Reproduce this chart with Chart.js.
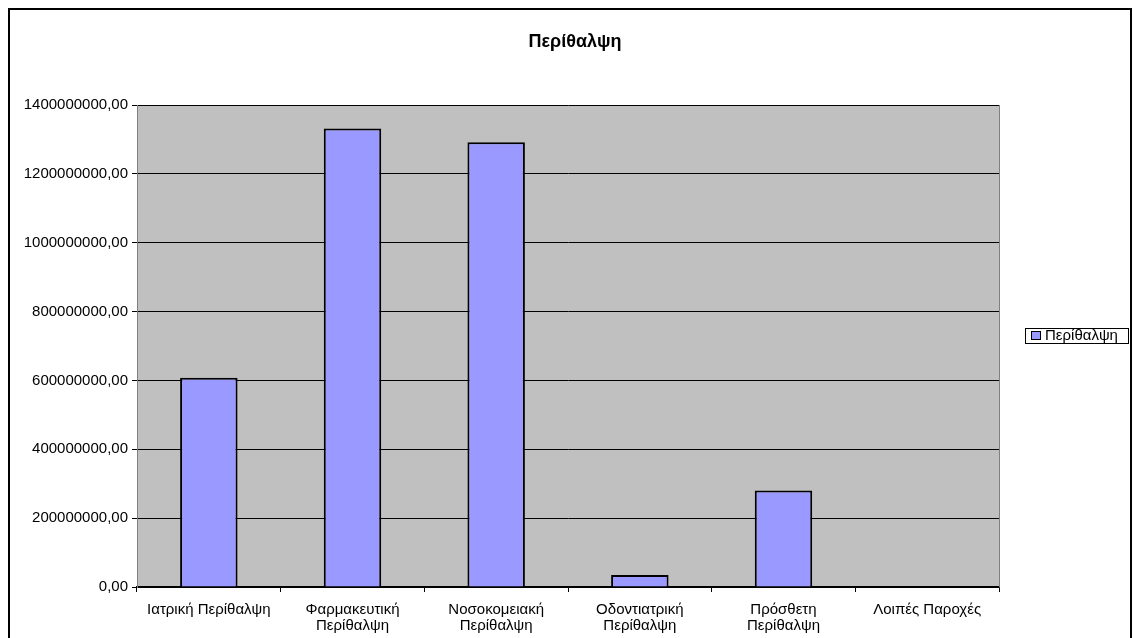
<!DOCTYPE html>
<html>
<head>
<meta charset="utf-8">
<script src="https://cdn.jsdelivr.net/npm/chart.js@4/dist/chart.umd.min.js"></script>
<style>
  html, body { margin: 0; padding: 0; background: #ffffff; }
  #wrap { width: 1133px; height: 638px; position: relative; }
</style>
</head>
<body>
<div id="wrap"><canvas id="chart" width="1133" height="638"></canvas></div>
<script>
// Chart content
const chartTitle = 'Περίθαλψη';
const seriesName = 'Περίθαλψη';
const categories = [
  'Ιατρική Περίθαλψη',
  'Φαρμακευτική Περίθαλψη',
  'Νοσοκομειακή Περίθαλψη',
  'Οδοντιατρική Περίθαλψη',
  'Πρόσθετη Περίθαλψη',
  'Λοιπές Παροχές'
];
// Category labels as they wrap under the axis
const categoryLines = [
  ['Ιατρική Περίθαλψη'],
  ['Φαρμακευτική', 'Περίθαλψη'],
  ['Νοσοκομειακή', 'Περίθαλψη'],
  ['Οδοντιατρική', 'Περίθαλψη'],
  ['Πρόσθετη', 'Περίθαλψη'],
  ['Λοιπές Παροχές']
];
const values = [608000000, 1332000000, 1292000000, 35000000, 280000000, 0];
const yTicks = [0, 200000000, 400000000, 600000000, 800000000, 1000000000, 1200000000, 1400000000];

const FONT = '"Liberation Sans", Arial, Helvetica, sans-serif';
const BAR_FILL = '#9999FF';

// Numbers shown with two decimals and a comma separator, no grouping
function fmt(v) {
  return Number(v).toFixed(2).replace('.', ',');
}

const frame = {
  id: 'frame',
  beforeDraw(chart) {
    const { ctx, chartArea: a } = chart;
    ctx.save();
    ctx.fillStyle = '#ffffff';
    ctx.fillRect(0, 0, chart.width, chart.height);
    ctx.fillStyle = '#C0C0C0';
    ctx.fillRect(a.left, a.top, a.right - a.left, a.bottom - a.top);
    ctx.restore();
  },
  afterDraw(chart) {
    const { ctx, chartArea: a } = chart;
    ctx.save();
    // plot area right edge
    ctx.strokeStyle = '#808080';
    ctx.lineWidth = 1;
    ctx.beginPath();
    ctx.moveTo(a.right + 0.5, a.top);
    ctx.lineTo(a.right + 0.5, a.bottom);
    ctx.stroke();

    // outer chart border
    ctx.strokeStyle = '#000000';
    ctx.lineWidth = 2;
    ctx.beginPath();
    ctx.moveTo(9, chart.height);
    ctx.lineTo(9, 9);
    ctx.lineTo(1131, 9);
    ctx.lineTo(1131, chart.height);
    ctx.stroke();

    // title
    ctx.fillStyle = '#000000';
    ctx.font = 'bold 18px ' + FONT;
    ctx.textAlign = 'center';
    ctx.textBaseline = 'middle';
    ctx.fillText(chartTitle, 575, 42.5);

    // legend
    const ds = chart.data.datasets[0];
    ctx.lineWidth = 1;
    ctx.strokeStyle = '#000000';
    ctx.fillStyle = '#ffffff';
    ctx.fillRect(1025.5, 328.5, 103, 15);
    ctx.strokeRect(1025.5, 328.5, 103, 15);
    ctx.fillStyle = ds.backgroundColor;
    ctx.fillRect(1031.5, 331.5, 9, 8);
    ctx.strokeRect(1031.5, 331.5, 9, 8);
    ctx.fillStyle = '#000000';
    ctx.font = '15px ' + FONT;
    ctx.textAlign = 'left';
    ctx.fillText(ds.label, 1045, 336);
    ctx.restore();
  }
};

new Chart(document.getElementById('chart'), {
  type: 'bar',
  data: {
    labels: categoryLines,
    datasets: [{
      label: seriesName,
      data: values,
      backgroundColor: BAR_FILL,
      borderColor: '#000000',
      borderWidth: 2,
      barPercentage: 0.4,
      categoryPercentage: 1.0
    }]
  },
  options: {
    responsive: false,
    devicePixelRatio: 1,
    animation: false,
    layout: { padding: { left: 10, top: 105, right: 134, bottom: 0 } },
    plugins: {
      legend: { display: false },
      title: { display: false },
      tooltip: { enabled: false }
    },
    scales: {
      x: {
        grid: { offset: true, drawOnChartArea: false, drawTicks: true, tickLength: 5, color: '#000000', lineWidth: 1 },
        border: { display: true, color: '#000000', width: 1.5 },
        ticks: { color: '#000000', font: { family: FONT, size: 15, lineHeight: 16 / 15 }, padding: 10, maxRotation: 0, minRotation: 0, autoSkip: false },
        afterFit(s) { s.height = 51; }
      },
      y: {
        min: 0,
        max: 1400000000,
        afterBuildTicks(s) { s.ticks = yTicks.map(v => ({ value: v })); },
        grid: { color: '#000000', lineWidth: 1, tickLength: 5, drawTicks: true },
        border: { display: true, color: '#808080', width: 1 },
        ticks: { color: '#000000', font: { family: FONT, size: 15 }, padding: 4, callback: v => fmt(v) },
        afterFit(s) { s.width = 127; }
      }
    }
  },
  plugins: [frame]
});
</script>
</body>
</html>
